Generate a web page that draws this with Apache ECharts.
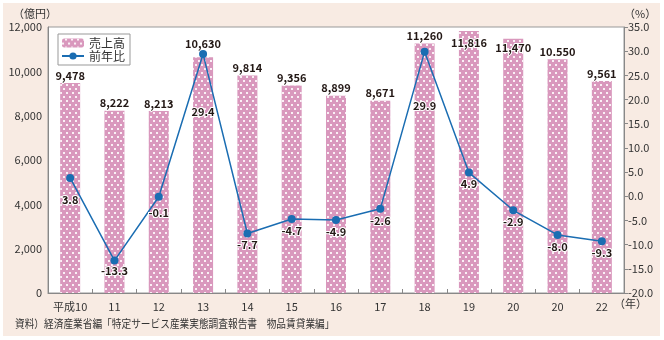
<!DOCTYPE html>
<html><head><meta charset="utf-8">
<script src="https://cdn.jsdelivr.net/npm/echarts@6/dist/echarts.min.js"></script>
<style>
html,body{margin:0;padding:0;background:#fff;}
#bg{position:absolute;left:3px;top:3px;width:657px;height:333px;background:#f8ebe3;}
#c{position:absolute;left:0;top:0;width:664px;height:340px;}
</style></head>
<body><div id="bg"></div><div id="c"></div>
<script>
const categories = ['平成10','11','12','13','14','15','16','17','18','19','20','20','22'];
const sales = [9478, 8222, 8213, 10630, 9814, 9356, 8899, 8671, 11260, 11816, 11470, 10550, 9561];
const salesLabels = ['9,478','8,222','8,213','10,630','9,814','9,356','8,899','8,671','11,260','11,816','11,470','10.550','9,561'];
const growth = [3.8, -13.3, -0.1, 29.4, -7.7, -4.7, -4.9, -2.6, 29.9, 4.9, -2.9, -8.0, -9.3];

const FONT = '"Noto Sans CJK JP", "Noto Sans", sans-serif';
const barLabelTweaks = {3: {offset:[0,-6]}, 9: {position:'insideTop', distance:6}, 10: {position:'insideTop', distance:4}};
const lineLabelTweaks = {0: [0,10], 1: [0,-1], 2: [0,5], 3: [0,46], 8: [0,43]};

const chart = echarts.init(document.getElementById('c'), null, {renderer:'canvas'});
const labelStyle = {fontFamily: FONT, fontSize: 11, fontWeight: 'bold', color: '#231815', textBorderColor: '#fff', textBorderWidth: 2};

chart.setOption({
  backgroundColor: 'transparent',
  textStyle: {fontFamily: FONT},
  animation: false,
  grid: {left: 48, right: 40, top: 27, bottom: 47, show: true, backgroundColor: '#fff', borderColor: '#999', borderWidth: 1},
  legend: {
    left: 58, top: 34, orient: 'vertical', itemGap: 1,
    padding: [3, 5, 3, 3],
    backgroundColor: '#fff', borderColor: '#999', borderWidth: 1,
    itemWidth: 22, itemHeight: 9,
    textStyle: {fontFamily: FONT, fontSize: 12, color: '#333'},
    data: ['売上高', '前年比']
  },
  xAxis: {
    type: 'category', data: categories,
    axisLine: {lineStyle: {color: '#888'}},
    axisTick: {show: true, inside: true, length: 4, lineStyle: {color: '#888'}},
    axisLabel: {color: '#333', fontSize: 11, margin: 8, fontFamily: FONT, interval: 0}
  },
  yAxis: [
    {type: 'value', min: 0, max: 12000, interval: 2000,
     splitLine: {show: false}, axisTick: {show: false},
     axisLine: {show: true, lineStyle: {color: '#888'}},
     axisLabel: {color: '#333', fontSize: 11, margin: 6, fontFamily: FONT,
       formatter: v => v.toLocaleString('en-US')}},
    {type: 'value', min: -20, max: 35, interval: 5,
     splitLine: {show: false},
     axisTick: {show: true, length: 4, lineStyle: {color: '#888'}},
     axisLine: {show: true, lineStyle: {color: '#888'}},
     axisLabel: {color: '#333', fontSize: 11, margin: 4, fontFamily: FONT,
       formatter: v => v.toFixed(1)}}
  ],
  series: [
    {
      name: '売上高', type: 'bar', barWidth: 20, yAxisIndex: 0,
      itemStyle: {
        color: '#d998bd',
        decal: {symbol: 'rect', symbolSize: 1, color: 'rgba(255,255,255,0.85)',
                dashArrayX: [[1.5, 3.5], [0, 2.5, 1.5, 1]], dashArrayY: [1.5, 2], rotation: 0}
      },
      label: Object.assign({show: true, position: 'top', distance: 2,
        formatter: p => salesLabels[p.dataIndex]}, labelStyle),
      data: sales.map((v, i) => {
        const t = barLabelTweaks[i];
        return t ? {value: v, label: t} : v;
      }),
      z: 2
    },
    {
      name: '前年比', type: 'line', yAxisIndex: 1,
      symbol: 'circle', symbolSize: 8,
      lineStyle: {color: '#1a6db2', width: 1.5},
      itemStyle: {color: '#1a6db2'},
      label: Object.assign({show: true, position: 'bottom', distance: 2,
        formatter: p => growth[p.dataIndex].toFixed(1)}, labelStyle),
      data: growth.map((v, i) => {
        const o = lineLabelTweaks[i];
        return o ? {value: v, label: {offset: o}} : v;
      }),
      z: 3
    }
  ],
  graphic: [
    {type: 'text', left: 13, top: 8, style: {text: '（億円）', fontFamily: FONT, fontSize: 11, fill: '#333'}},
    {type: 'text', left: 624, top: 8, style: {text: '（%）', fontFamily: FONT, fontSize: 11, fill: '#333'}},
    {type: 'text', left: 614, top: 298, style: {text: '（年）', fontFamily: FONT, fontSize: 11, fill: '#333'}},
    {type: 'text', x: 15, y: 324, scaleX: 0.88, style: {text: '資料）経済産業省編「特定サービス産業実態調査報告書　物品賃貸業編」', fontFamily: FONT, fontSize: 11, fill: '#333', verticalAlign: 'middle', align: 'left'}}
  ]
});
</script></body></html>
